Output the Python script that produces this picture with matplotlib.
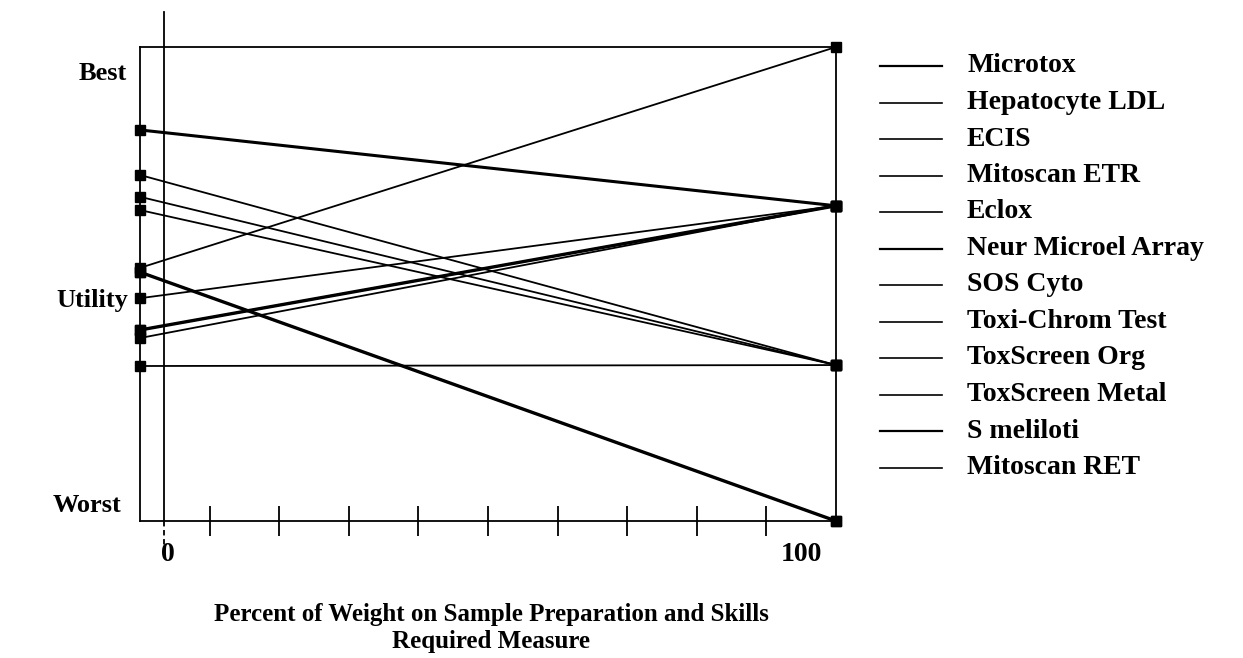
import matplotlib
matplotlib.use("Agg")
import matplotlib.pyplot as plt
from matplotlib.lines import Line2D

plt.rcParams['font.family'] = ['Liberation Serif', 'DejaVu Serif']
plt.rcParams['font.weight'] = 'bold'

# ---- data ----
names = ["Microtox", "Hepatocyte LDL", "ECIS", "Mitoscan ETR", "Eclox",
         "Neur Microel Array", "SOS Cyto", "Toxi-Chrom Test", "ToxScreen Org",
         "ToxScreen Metal", "S meliloti", "Mitoscan RET"]
x_weights = [0, 100]
utility_at_0 = [0.825, 0.730, 0.534, 0.684, 0.470, 0.403, 0.656, 0.386,
                0.327, 0.403, 0.525, 0.525]
utility_at_100 = [0.665, 0.329, 1.000, 0.329, 0.665, 0.665, 0.329, 0.665,
                  0.329, 0.665, 0.000, 0.000]
line_widths = [2.2, 1.3, 1.3, 1.3, 1.3, 2.4, 1.3, 1.3, 1.3, 1.3, 2.4, 1.3]
x_ticks = [10, 20, 30, 40, 50, 60, 70, 80, 90]
y_labels = ["Best", "Utility", "Worst"]
x_end_labels = ["0", "100"]
xlabel = "Percent of Weight on Sample Preparation and Skills\nRequired Measure"

W, H = 1243, 658
fig = plt.figure(figsize=(W / 100, H / 100), dpi=100)
ax = fig.add_axes([140 / W, 1 - 521 / H, 696 / W, 474 / H])

for a, b, lw in zip(utility_at_0, utility_at_100, line_widths):
    ax.plot(x_weights, [a, b], color="black", lw=lw, marker="s", ms=7.5,
            mfc="black", mec="black", clip_on=False, solid_capstyle="butt")

ax.set_xlim(0, 100)
ax.set_ylim(0, 1)
for s in ax.spines.values():
    s.set_linewidth(1.3)
ax.set_xticks(x_ticks)
ax.set_xticklabels([])
ax.tick_params(axis="x", direction="inout", length=21, width=1.3)
ax.set_yticks([])

# misplaced vertical axis line
xv = 3.45
ax.plot([xv, xv], [0, 1.074], color="black", lw=1.3, clip_on=False)
ax.plot([xv, xv], [0, -0.078], color="black", lw=1.3, ls=(0, (3, 2)), clip_on=False)

# end labels of the x axis
ax.text(4.0, -0.045, x_end_labels[0], ha="center", va="top", fontsize=20, fontweight="bold")
ax.text(95.0, -0.045, x_end_labels[1], ha="center", va="top", fontsize=20, fontweight="bold")

# y labels
fig.text(127 / W, 1 - 73 / H, y_labels[0], ha="right", va="center", fontsize=19, fontweight="bold")
fig.text(128 / W, 1 - 300 / H, y_labels[1], ha="right", va="center", fontsize=19, fontweight="bold")
fig.text(121 / W, 1 - 505 / H, y_labels[2], ha="right", va="center", fontsize=19, fontweight="bold")

# x label
fig.text(491 / W, 1 - 628 / H, xlabel, ha="center", va="center", fontsize=18,
         fontweight="bold", linespacing=1.25)

# legend
y0, dy = 66, 36.5
for i, (nm, lw) in enumerate(zip(names, line_widths)):
    yy = 1 - (y0 + i * dy) / H
    fig.add_artist(Line2D([880 / W, 942 / W], [yy, yy], color="black",
                          lw=1.6 if lw > 2 else 1.2, transform=fig.transFigure))
    fig.text(967 / W, yy, nm, ha="left", va="center", fontsize=20, fontweight="bold")

fig.savefig("out.png", dpi=100)
